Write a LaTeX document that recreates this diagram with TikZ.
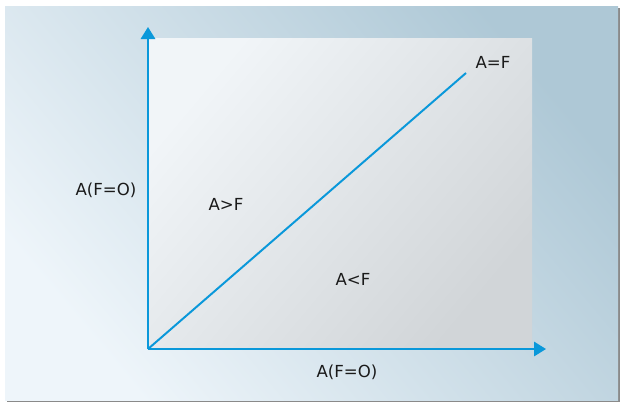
\documentclass[tikz,border=0pt]{standalone}
\usepackage{fontspec}
\setmainfont{DejaVu Sans}
\usetikzlibrary{arrows.meta}
\definecolor{panellight}{HTML}{EEF5FA}
\definecolor{paneldark}{HTML}{AEC8D6}
\definecolor{plotlight}{HTML}{F1F5F8}
\definecolor{plotdark}{HTML}{D1D5D8}
\definecolor{shadowgray}{HTML}{8A8A8A}
\definecolor{axisblue}{HTML}{0A98DA}
\definecolor{labeltext}{HTML}{1A1A1A}

\begin{document}
\begin{tikzpicture}[
    x=0.025cm, y=-0.025cm,
    line width=1.4pt,
    font=\fontsize{11.8}{14}\selectfont,
    axis/.style={draw=axisblue, line width=1.4pt, -{Triangle[length=0.3cm, width=0.36cm]}},
    diag/.style={draw=axisblue, line width=1.4pt},
    lbl/.style={text=labeltext, anchor=base, inner sep=0pt}
]

    % Bounding box and panel
    \useasboundingbox (0,0) rectangle (620,402);
    \fill[shadowgray] (7,8) rectangle (620,402);
    \shade[top color=paneldark, bottom color=panellight, shading angle=-50] (5,6) rectangle (618,400);

    % Plot area
    \shade[top color=plotlight, bottom color=plotdark, shading angle=50] (148,38) rectangle (532,348);

    % Points
    \coordinate (origin) at (148,349);
    \coordinate (ytip) at (148,27);
    \coordinate (xtip) at (546,349);
    \coordinate (diagend) at (466,73);

    % Axes and diagonal
    \draw[axis] (origin) -- (ytip);
    \draw[axis] (origin) -- (xtip);
    \draw[diag] (origin) -- (diagend);

    % Labels
    \node[lbl] (equal) at (493,68) {A=F};
    \node[lbl] (yname) at (106,195) {A(F=O)};
    \node[lbl] (above) at (226,210) {A>F};
    \node[lbl] (below) at (353,285) {A<F};
    \node[lbl] (xname) at (347,377) {A(F=O)};

\end{tikzpicture}
\end{document}
